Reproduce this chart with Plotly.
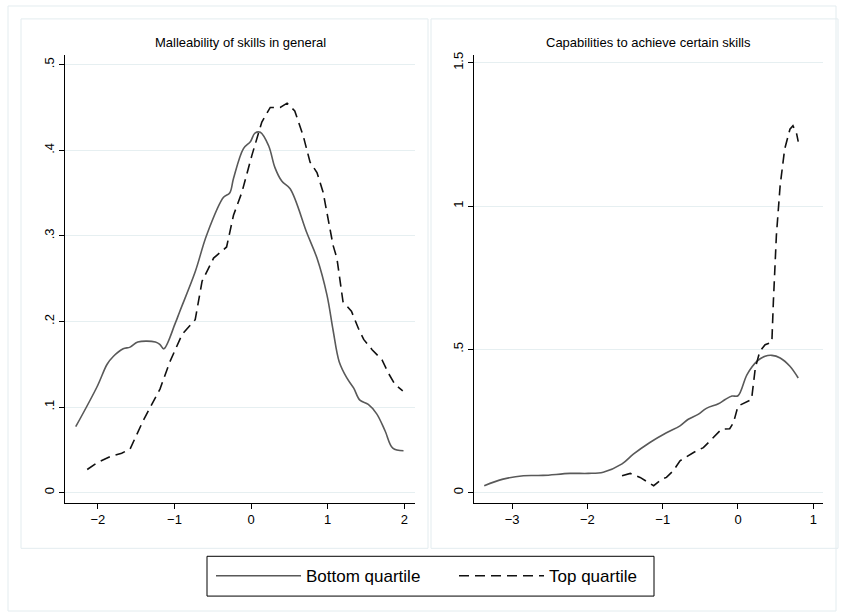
import plotly.graph_objects as go

# ---- data: left panel (Malleability of skills in general)
mall_bottom_x = [-2.29, -2.01, -1.88, -1.80, -1.67, -1.58, -1.48, -1.25, -1.19, -1.14, -0.99, -0.93,
                 -0.73, -0.58, -0.36, -0.28, -0.23, -0.10, -0.01, 0.05, 0.12, 0.23, 0.31, 0.40, 0.51,
                 0.73, 0.86, 0.99, 1.07, 1.15, 1.25, 1.34, 1.42, 1.53, 1.64, 1.75, 1.85, 1.99]
mall_bottom_y = [0.077, 0.124, 0.150, 0.159, 0.168, 0.170, 0.176, 0.176, 0.173, 0.168, 0.198, 0.212,
                 0.258, 0.301, 0.345, 0.350, 0.367, 0.402, 0.410, 0.420, 0.421, 0.405, 0.380, 0.364, 0.355,
                 0.303, 0.274, 0.231, 0.190, 0.153, 0.134, 0.122, 0.108, 0.103, 0.092, 0.072, 0.052, 0.049]
mall_top_x = [-2.14, -2.01, -1.84, -1.69, -1.58, -1.41, -1.19, -1.06, -0.90, -0.73, -0.64, -0.49,
              -0.32, -0.23, -0.12, 0.01, 0.14, 0.25, 0.38, 0.47, 0.57, 0.68, 0.77, 0.86, 0.94,
              1.07, 1.12, 1.20, 1.31, 1.40, 1.47, 1.58, 1.71, 1.79, 1.88, 1.98]
mall_top_y = [0.027, 0.035, 0.042, 0.046, 0.051, 0.084, 0.121, 0.153, 0.185, 0.202, 0.247, 0.274,
              0.287, 0.324, 0.351, 0.394, 0.433, 0.450, 0.450, 0.455, 0.446, 0.417, 0.386, 0.374, 0.351,
              0.289, 0.274, 0.223, 0.212, 0.192, 0.179, 0.167, 0.155, 0.140, 0.126, 0.119]

# ---- data: right panel (Capabilities to achieve certain skills)
cap_bottom_x = [-3.37, -3.12, -2.85, -2.59, -2.23, -1.99, -1.79, -1.54, -1.39, -1.17, -0.95, -0.77,
                -0.66, -0.53, -0.42, -0.26, -0.17, -0.08, 0.00, 0.12, 0.25, 0.36, 0.45, 0.56, 0.69, 0.80]
cap_bottom_y = [0.024, 0.047, 0.059, 0.060, 0.067, 0.067, 0.071, 0.100, 0.134, 0.175, 0.209, 0.233,
                0.256, 0.273, 0.294, 0.310, 0.325, 0.337, 0.338, 0.412, 0.458, 0.476, 0.479, 0.470, 0.441, 0.400]
cap_top_x = [-1.54, -1.43, -1.30, -1.12, -1.01, -0.95, -0.86, -0.77, -0.59, -0.46, -0.35, -0.22,
             -0.11, -0.06, 0.00, 0.09, 0.18, 0.23, 0.29, 0.36, 0.45, 0.47, 0.51, 0.56, 0.62, 0.69,
             0.73, 0.78, 0.80]
cap_top_y = [0.059, 0.067, 0.053, 0.024, 0.047, 0.053, 0.076, 0.111, 0.140, 0.157, 0.186, 0.221,
             0.223, 0.244, 0.302, 0.314, 0.325, 0.435, 0.493, 0.516, 0.525, 0.667, 0.898, 1.072, 1.199, 1.268,
             1.280, 1.251, 1.225]

titles = ["Malleability of skills in general", "Capabilities to achieve certain skills"]
series_names = ["Bottom quartile", "Top quartile"]
left_yticks = [0, 0.1, 0.2, 0.3, 0.4, 0.5]
left_ylabels = ["0", ".1", ".2", ".3", ".4", ".5"]
left_xticks = [-2, -1, 0, 1, 2]
right_yticks = [0, 0.5, 1, 1.5]
right_ylabels = ["0", ".5", "1", "1.5"]
right_xticks = [-3, -2, -1, 0, 1]

W, H = 844, 614
FONT = "Liberation Sans, Arial, sans-serif"
solid = dict(color="#595959", width=1.6)
dashed = dict(color="#111111", width=1.6, dash="10px,6px")

fig = go.Figure()
fig.add_trace(go.Scatter(x=mall_bottom_x, y=mall_bottom_y, mode="lines", line=solid,
                         name=series_names[0], xaxis="x", yaxis="y", line_shape="spline",
                         legend="legend"))
fig.add_trace(go.Scatter(x=mall_top_x, y=mall_top_y, mode="lines", line=dashed,
                         name=series_names[1], xaxis="x", yaxis="y", legend="legend2"))
fig.add_trace(go.Scatter(x=cap_bottom_x, y=cap_bottom_y, mode="lines", line=solid,
                         name=series_names[0], xaxis="x2", yaxis="y2", showlegend=False, line_shape="spline"))
fig.add_trace(go.Scatter(x=cap_top_x, y=cap_top_y, mode="lines", line=dashed,
                         name=series_names[1], xaxis="x2", yaxis="y2", showlegend=False))


def px(v):
    return v / W


def py(v):
    return 1 - v / H


grid = "#e6eff1"
common_x = dict(showline=True, linecolor="black", linewidth=1, ticks="outside", ticklen=5,
                tickcolor="black", showgrid=False, zeroline=False,
                tickfont=dict(size=13, family=FONT, color="black"))
common_y = dict(showline=True, linecolor="black", linewidth=1, ticks="outside", ticklen=5,
                tickcolor="black", showgrid=True, gridcolor=grid, gridwidth=1, zeroline=False,
                tickangle=-90, tickfont=dict(size=13, family=FONT, color="black"))
legend_common = dict(orientation="h", yanchor="middle", y=py(576), xanchor="left",
                     borderwidth=0, bgcolor="rgba(0,0,0,0)",
                     font=dict(size=17, family=FONT, color="black"), itemwidth=85)

fig.update_layout(
    width=W, height=H, margin=dict(l=0, r=0, t=0, b=0),
    paper_bgcolor="white", plot_bgcolor="white",
    font=dict(family=FONT, color="black"),
    xaxis=dict(domain=[px(65), px(415)], range=[-2.43, 2.14], tickvals=left_xticks,
               anchor="y", **common_x),
    yaxis=dict(domain=[py(502), py(52)], range=[-0.0116, 0.5116], tickvals=left_yticks,
               ticktext=left_ylabels, anchor="x", **common_y),
    xaxis2=dict(domain=[px(474), px(823)], range=[-3.506, 1.129], tickvals=right_xticks,
                anchor="y2", **common_x),
    yaxis2=dict(domain=[py(502), py(52)], range=[-0.0347, 1.528], tickvals=right_yticks,
                ticktext=right_ylabels, anchor="x2", **common_y),
    showlegend=True,
    legend=dict(x=px(211), **legend_common),
    legend2=dict(x=px(454), **legend_common),
)

shapes = [
    dict(type="rect", xref="paper", yref="paper", x0=px(8), x1=px(836), y0=py(611), y1=py(3),
         line=dict(color="#e3ecef", width=1), layer="below"),
    dict(type="rect", xref="paper", yref="paper", x0=px(21), x1=px(428), y0=py(548), y1=py(16),
         line=dict(color="#e3ecef", width=1), layer="below"),
    dict(type="rect", xref="paper", yref="paper", x0=px(431), x1=px(838), y0=py(548), y1=py(16),
         line=dict(color="#e3ecef", width=1), layer="below"),
    # legend frame
    dict(type="rect", xref="paper", yref="paper", x0=px(207), x1=px(654), y0=py(596), y1=py(556),
         line=dict(color="black", width=1), layer="below"),
]
fig.update_layout(shapes=shapes)

fig.add_annotation(text=titles[0], xref="paper", yref="paper", x=px(240), y=py(40),
                   xanchor="center", yanchor="middle",
                   showarrow=False, font=dict(size=13, family=FONT, color="black"))
fig.add_annotation(text=titles[1], xref="paper", yref="paper", x=px(648), y=py(40),
                   xanchor="center", yanchor="middle",
                   showarrow=False, font=dict(size=13, family=FONT, color="black"))

fig.write_html("out.html", config={"displayModeBar": False},
               post_script="document.body.style.margin='0px';document.body.style.overflow='hidden';")
